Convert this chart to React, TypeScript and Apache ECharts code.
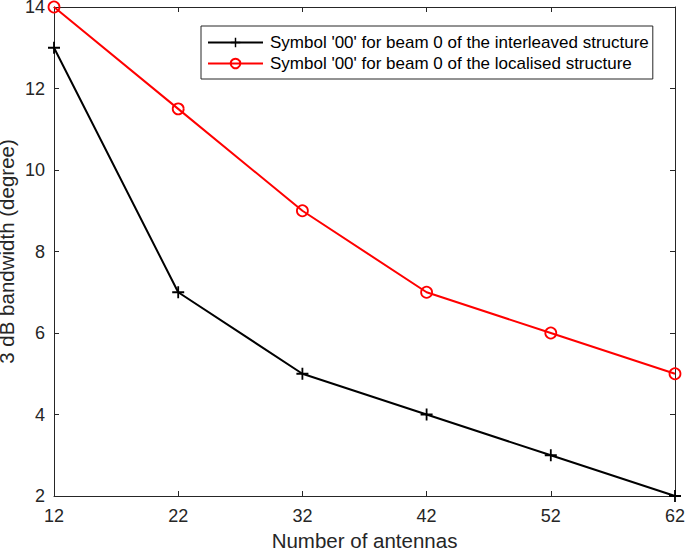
import React, { useEffect, useRef } from "react";
import * as echarts from "echarts";

const antennas = ["12", "22", "32", "42", "52", "62"];
const interleaved = [13, 7, 5, 4, 3, 2];
const localised = [14, 11.5, 9, 7, 6, 5];
const seriesNames = [
  "Symbol '00' for beam 0 of the interleaved structure",
  "Symbol '00' for beam 0 of the localised structure",
];
const xName = "Number of antennas";
const yName = "3 dB bandwidth (degree)";

const PLUS = "path://M-0.9,-6H0.9V-0.9H6V0.9H0.9V6H-0.9V0.9H-6V-0.9H-0.9Z";
const AX = "#262626";
const FONT = "Arial, 'Liberation Sans', Helvetica, sans-serif";

export default function App() {
  const ref = useRef<HTMLDivElement>(null);
  useEffect(() => {
    document.body.style.margin = "0";
    const chart = echarts.init(ref.current!, null, { renderer: "svg" });
    const tickCommon = { show: true, inside: true, length: 5, lineStyle: { color: AX, width: 1 } };
    chart.setOption({
      animation: false,
      backgroundColor: "#fff",
      textStyle: { fontFamily: FONT },
      grid: { left: 54, right: 10, top: 7, bottom: 57, containLabel: false, outerBoundsMode: "none" },
      legend: {
        orient: "vertical",
        left: 201,
        top: 26,
        padding: [8, 4, 7, 6],
        itemGap: 4,
        itemWidth: 55,
        itemHeight: 12,
        backgroundColor: "#fff",
        borderColor: AX,
        borderWidth: 1,
        borderRadius: 0,
        textStyle: { fontSize: 17, color: "#000", fontFamily: FONT, padding: [0, 0, 0, 2] },
        data: seriesNames,
      },
      xAxis: [
        {
          type: "category",
          data: antennas,
          boundaryGap: false,
          name: xName,
          nameLocation: "middle",
          nameGap: 34,
          nameMoveOverlap: false,
          nameTextStyle: { fontSize: 20.5, color: AX, fontFamily: FONT },
          axisLine: { show: true, lineStyle: { color: AX, width: 1 } },
          axisTick: { ...tickCommon, alignWithLabel: true },
          axisLabel: { fontSize: 18, color: AX, margin: 11, fontFamily: FONT },
          splitLine: { show: false },
        },
        {
          type: "category",
          data: antennas,
          boundaryGap: false,
          position: "top",
          axisLine: { show: true, lineStyle: { color: AX, width: 1 } },
          axisTick: { ...tickCommon, alignWithLabel: true },
          axisLabel: { show: false },
          splitLine: { show: false },
        },
      ],
      yAxis: [
        {
          type: "value",
          min: 2,
          max: 14,
          interval: 2,
          name: yName,
          nameLocation: "middle",
          nameGap: 37,
          nameMoveOverlap: false,
          nameTextStyle: { fontSize: 20.5, color: AX, fontFamily: FONT },
          axisLine: { show: true, lineStyle: { color: AX, width: 1 } },
          axisTick: tickCommon,
          axisLabel: { fontSize: 18, color: AX, margin: 9, fontFamily: FONT },
          splitLine: { show: false },
        },
        {
          type: "value",
          min: 2,
          max: 14,
          interval: 2,
          position: "right",
          axisLine: { show: true, lineStyle: { color: AX, width: 1 } },
          axisTick: tickCommon,
          axisLabel: { show: false },
          splitLine: { show: false },
        },
      ],
      series: [
        {
          name: seriesNames[0],
          type: "line",
          data: interleaved,
          symbol: PLUS,
          symbolSize: 12,
          lineStyle: { color: "#000", width: 2 },
          itemStyle: { color: "#000" },
          z: 3,
        },
        {
          name: seriesNames[1],
          type: "line",
          data: localised,
          symbol: "circle",
          symbolSize: 11,
          lineStyle: { color: "#ff0000", width: 2 },
          itemStyle: { color: "rgba(255,255,255,0)", borderColor: "#ff0000", borderWidth: 1.8 },
          z: 2,
        },
      ],
    });
    return () => chart.dispose();
  }, []);
  return <div ref={ref} style={{ width: 685, height: 553 }} />;
}
